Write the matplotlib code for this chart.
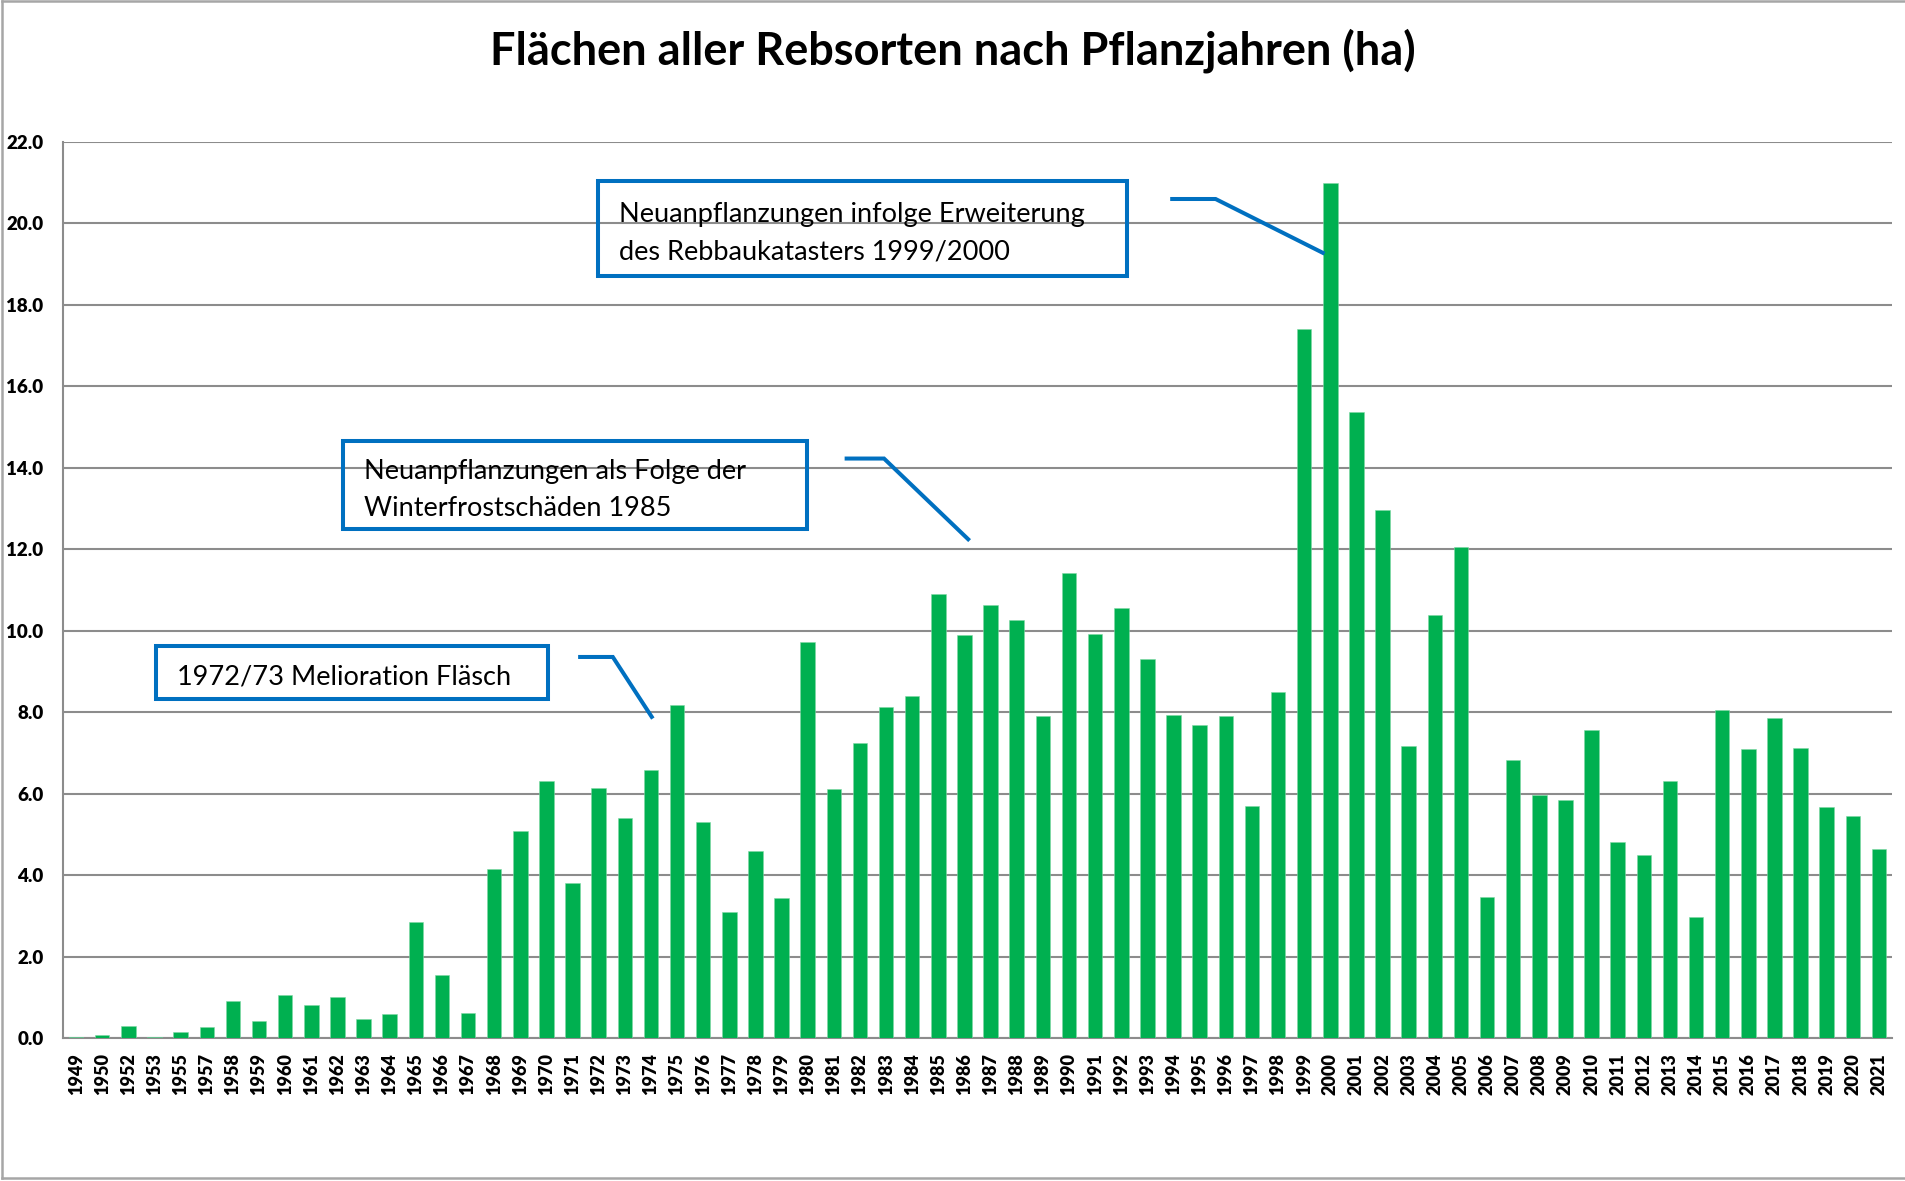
import matplotlib
matplotlib.use("Agg")
import matplotlib.pyplot as plt
from matplotlib.patches import Rectangle
from matplotlib.lines import Line2D

years = ["1949", "1950", "1952", "1953", "1955", "1957", "1958", "1959", "1960", "1961",
         "1962", "1963", "1964", "1965", "1966", "1967", "1968", "1969", "1970", "1971",
         "1972", "1973", "1974", "1975", "1976", "1977", "1978", "1979", "1980", "1981",
         "1982", "1983", "1984", "1985", "1986", "1987", "1988", "1989", "1990", "1991",
         "1992", "1993", "1994", "1995", "1996", "1997", "1998", "1999", "2000", "2001",
         "2002", "2003", "2004", "2005", "2006", "2007", "2008", "2009", "2010", "2011",
         "2012", "2013", "2014", "2015", "2016", "2017", "2018", "2019", "2020", "2021"]

flaeche_ha = [0.04, 0.07, 0.30, 0.03, 0.15, 0.29, 0.92, 0.42, 1.07, 0.81,
              1.02, 0.47, 0.59, 2.85, 1.56, 0.63, 4.16, 5.09, 6.31, 3.81,
              6.15, 5.41, 6.58, 8.18, 5.32, 3.11, 4.61, 3.44, 9.72, 6.13,
              7.26, 8.14, 8.41, 10.90, 9.90, 10.63, 10.27, 7.91, 11.43, 9.92,
              10.56, 9.31, 7.94, 7.70, 7.91, 5.69, 8.51, 17.40, 20.99, 15.38,
              12.97, 7.17, 10.40, 12.06, 3.46, 6.82, 5.98, 5.86, 7.56, 4.82,
              4.51, 6.31, 2.97, 8.06, 7.10, 7.87, 7.12, 5.68, 5.45, 4.64]

title = "Flächen aller Rebsorten nach Pflanzjahren (ha)"

# callouts: text, box (x0, x1, y_bottom, y_top) in category/value units, leader line
callouts = [
    ("Neuanpflanzungen infolge Erweiterung\ndes Rebbaukatasters 1999/2000",
     (19.99, 40.23, 18.71, 21.05), [(41.95, 20.60), (43.61, 20.60), (47.71, 19.28)]),
    ("Neuanpflanzungen als Folge der\nWinterfrostschäden 1985",
     (10.23, 27.99, 12.50, 14.65), [(29.49, 14.23), (30.92, 14.23), (34.14, 12.25)]),
    ("1972/73 Melioration Fläsch",
     (3.06, 18.07, 8.34, 9.63), [(19.29, 9.36), (20.54, 9.36), (22.03, 7.89)]),
]

green = "#00B050"
blue = "#0070C0"
grid_grey = "#8C8C8C"

fig = plt.figure(figsize=(19.05, 11.81), dpi=100)
ax = fig.add_axes([0.0331, 0.1208, 0.9601, 0.759])

x = range(len(years))
ax.bar(x, flaeche_ha, width=0.555, color=green, edgecolor="#7fd8a5", linewidth=0.4, zorder=3)

ax.set_xlim(-0.5, len(years) - 0.5)
ax.set_ylim(0, 22)
ax.set_yticks(range(0, 23, 2))
ax.set_yticklabels([f"{v:.1f}" for v in range(0, 23, 2)],
                   fontfamily="Lato", fontweight="heavy", fontsize=13.5)
ax.set_xticks(list(x))
ax.set_xticklabels(years, rotation=90, fontfamily="Lato",
                   fontweight="heavy", fontsize=13)
ax.tick_params(axis="both", length=0)
ax.tick_params(axis="y", pad=14)
ax.tick_params(axis="x", pad=10.5)

ax.grid(axis="y", color=grid_grey, linewidth=1.5)
ax.set_axisbelow(True)
for side in ["top", "right"]:
    ax.spines[side].set_visible(False)
for side in ["left", "bottom"]:
    ax.spines[side].set_color(grid_grey)
    ax.spines[side].set_linewidth(1.5)

for text, (x0, x1, y0, y1), leader in callouts:
    ax.add_patch(Rectangle((x0, y0), x1 - x0, y1 - y0, fill=False,
                           edgecolor=blue, linewidth=2.9, zorder=5, clip_on=False))
    ax.text(x0 + 0.8, (y0 + y1) / 2 - 0.12, text, ha="left", va="center",
            fontfamily="Lato", fontsize=19.5, linespacing=1.6, zorder=6)
    lx, ly = zip(*leader)
    ax.plot(lx, ly, color=blue, linewidth=2.9, zorder=5, clip_on=False,
            solid_joinstyle="miter")

fig.text(0.5003, 0.957, title, ha="center", va="center",
         fontfamily="Lato", fontweight="bold", fontsize=32.5)

# outer frame of the chart area (left, top, bottom)
frame = dict(color="#A6A6A6", linewidth=1.8, transform=fig.transFigure)
fig.add_artist(Line2D([0.0008, 0.0008], [0.0025, 0.999], **frame))
fig.add_artist(Line2D([0.0008, 1.0], [0.999, 0.999], **frame))
fig.add_artist(Line2D([0.0008, 1.0], [0.0025, 0.0025], **frame))

fig.savefig("out.png", dpi=100)
